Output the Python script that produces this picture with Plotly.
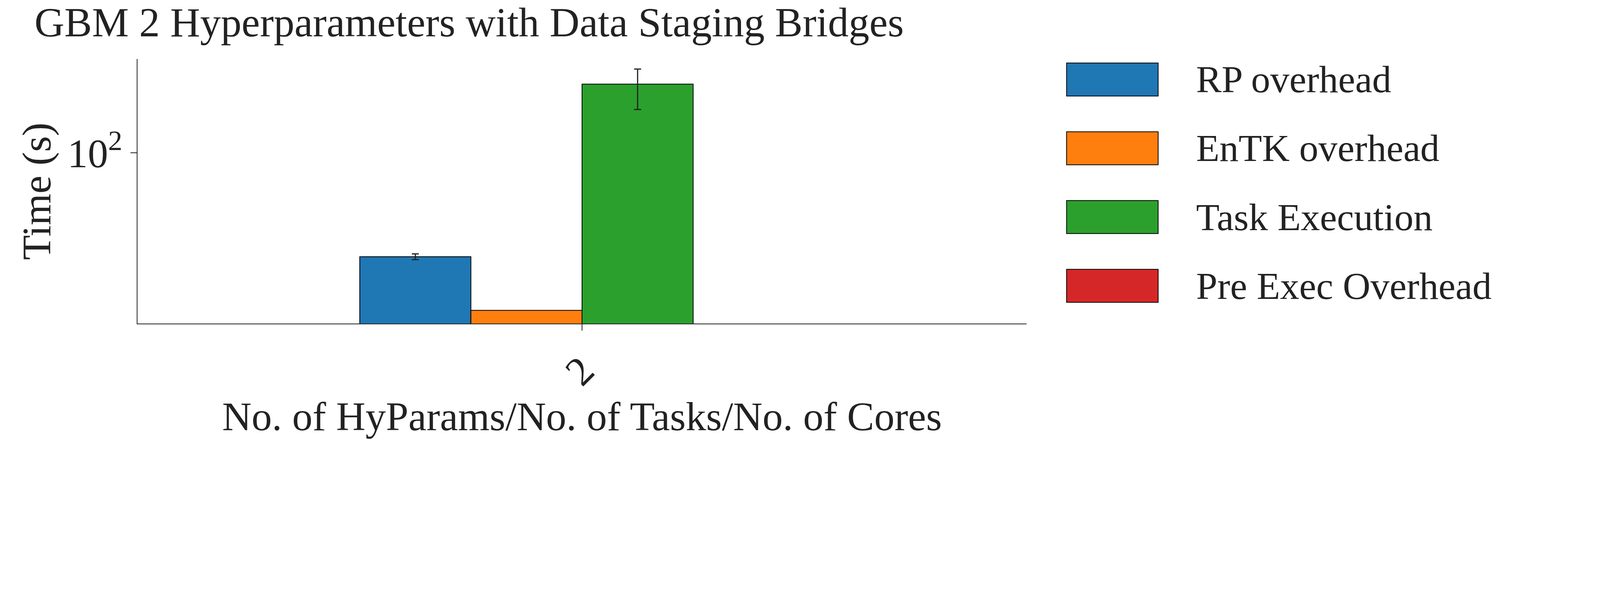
import plotly.graph_objects as go

# data
categories = ["2"]
series = ["RP overhead", "EnTK overhead", "Task Execution", "Pre Exec Overhead"]
colors = ["#1f77b4", "#ff7f0e", "#2ca02c", "#d62728"]
values = [30.6, 16.6, 219.0, 0.0]
err_plus = [1.0, 0.0, 41.0, 0.0]
err_minus = [1.0, 0.0, 55.0, 0.0]

FONT = "Liberation Serif"
W, H = 4015, 1127

fig = go.Figure()
for name, c, v, ep, em in zip(series, colors, values, err_plus, err_minus):
    fig.add_trace(go.Bar(
        x=categories, y=[v], name=name, marker=dict(color=c, line=dict(color="black", width=2)),
        error_y=dict(type="data", array=[ep], arrayminus=[em], color="#222", thickness=3, width=9,
                     visible=ep > 0),
        showlegend=False))

# legend drawn by hand to get the big matplotlib-style patches
for i, (name, c) in enumerate(zip(series, colors)):
    y0 = 0.985 - i * 0.26
    fig.add_shape(type="rect", xref="paper", yref="paper", x0=1.045, x1=1.148, y0=y0 - 0.125, y1=y0,
                  fillcolor=c, line=dict(color="black", width=2))
    fig.add_annotation(xref="paper", yref="paper", x=1.19, y=y0 - 0.0625, text=name, showarrow=False,
                       xanchor="left", yanchor="middle", font=dict(size=98, family=FONT, color="#222"))

fig.update_layout(
    width=W, height=H, plot_bgcolor="white", paper_bgcolor="white",
    barmode="group", bargap=0.2,
    margin=dict(l=344, r=1395, t=143, b=307),
    font=dict(family=FONT, color="#222"),
    title=dict(text="GBM 2 Hyperparameters with Data Staging Bridges", x=0.02, xanchor="left",
               y=0.99, yanchor="top", font=dict(size=106, family=FONT, color="#222")),
)
fig.update_xaxes(range=[-0.8, 0.8], showline=True, linecolor="#222", linewidth=2, ticks="outside",
                 ticklen=16, tickwidth=2, tickcolor="#222", tickangle=-45,
                 tickfont=dict(size=104), title=dict(text="No. of HyParams/No. of Tasks/No. of Cores",
                 font=dict(size=104), standoff=15))
fig.update_yaxes(type="log", range=[1.155, 2.465], showline=True, linecolor="#222", linewidth=2,
                 ticks="outside", ticklen=16, tickwidth=2, tickcolor="#222", showgrid=False,
                 tickvals=[100], ticktext=["10<sup>2</sup>"], tickfont=dict(size=104),
                 title=dict(text="Time (s)", font=dict(size=104), standoff=8))

fig.write_html("out.html")
